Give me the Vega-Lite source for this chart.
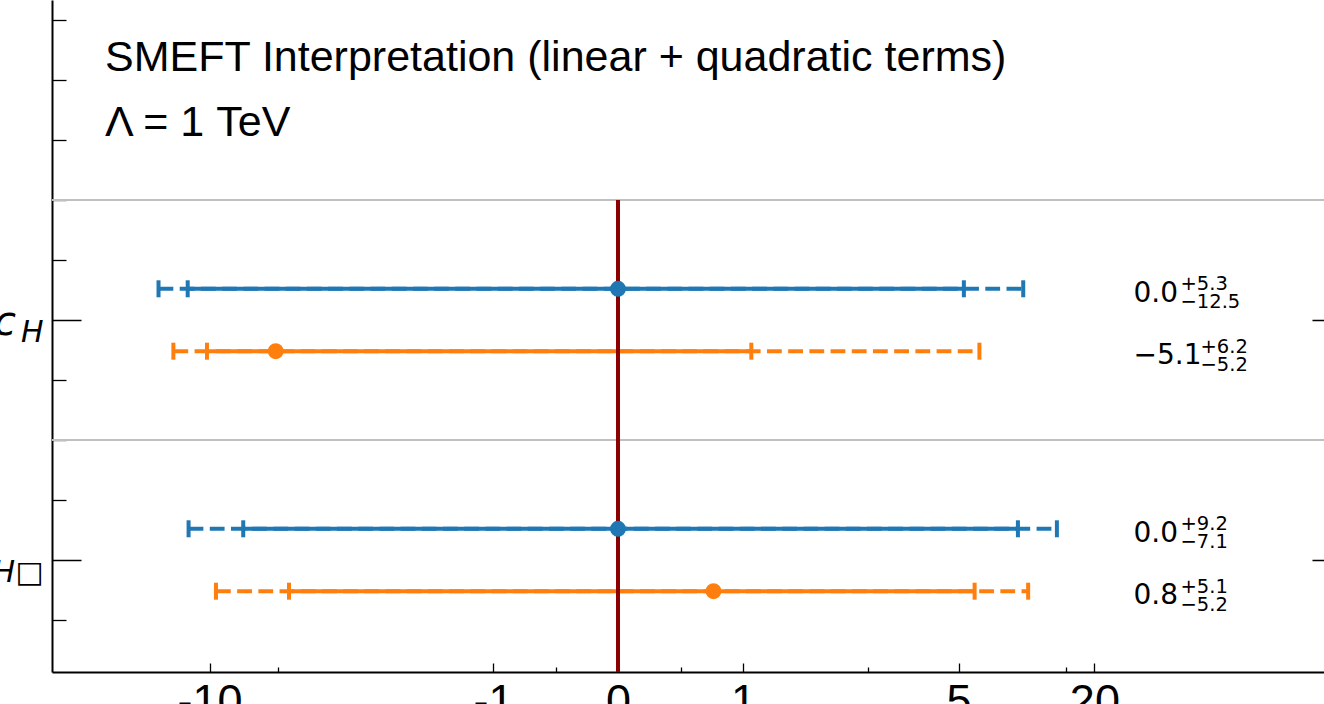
{
  "$schema": "https://vega.github.io/schema/vega-lite/v6.json",
  "width": 1272,
  "height": 672,
  "autosize": {"type": "none"},
  "padding": {"left": 52, "top": 0, "right": 0, "bottom": 32},
  "background": "white",
  "config": {
    "view": {"stroke": null},
    "font": "Liberation Sans"
  },
  "title": {
    "text": "SMEFT Interpretation (linear + quadratic terms)",
    "subtitle": "Λ = 1 TeV",
    "anchor": "start",
    "frame": "group",
    "orient": "top",
    "offset": -145,
    "dx": 53,
    "font": "Liberation Sans",
    "fontSize": 43,
    "fontWeight": "normal",
    "color": "black",
    "subtitleFont": "Liberation Sans",
    "subtitleFontSize": 43,
    "subtitleColor": "black",
    "subtitlePadding": 22
  },
  "datasets": {
    "fits": [
      {"coef": "c_H", "series": "Expected", "central": 0.0, "lo1": -12.5, "hi1": 5.3, "lo2": -17.0, "hi2": 9.7},
      {"coef": "c_H", "series": "Observed", "central": -5.1, "lo1": -10.3, "hi1": 1.1, "lo2": -14.5, "hi2": 6.2},
      {"coef": "c_H□", "series": "Expected", "central": 0.0, "lo1": -7.1, "hi1": 9.2, "lo2": -12.4, "hi2": 13.7},
      {"coef": "c_H□", "series": "Observed", "central": 0.8, "lo1": -4.4, "hi1": 5.9, "lo2": -9.4, "hi2": 10.2}
    ],
    "coefs": [
      {"coef": "c_H"},
      {"coef": "c_H□"}
    ]
  },
  "layer": [
    {
      "data": {"name": "coefs"},
      "transform": [
        {"calculate": "indexof(['c_H□', 'c_H'], datum.coef)", "as": "row"},
        {"calculate": "datum.row + 0.5", "as": "edge"}
      ],
      "mark": {"type": "rule", "color": "#c0c0c0", "strokeWidth": 2},
      "encoding": {
        "y": {
          "field": "edge", "type": "quantitative",
          "scale": {"domain": [-0.4667, 2.3333], "nice": false, "zero": false},
          "axis": {
            "values": [-0.25, 0, 0.25, 0.5, 0.75, 1, 1.25, 1.5, 1.75, 2, 2.25],
            "title": null,
            "ticks": false,
            "grid": true,
            "gridColor": "black",
            "gridWidth": 1.3,
            "gridDash": {"condition": {"test": "datum.value == 0 || datum.value == 1", "value": [29, 1231, 12, 100]}, "value": [14, 3000]},
            "domainColor": "black",
            "domainWidth": 2,
            "labelExpr": "datum.value == 1 ? 'H' : datum.value == 0 ? 'H□' : ''",
            "labelFont": "DejaVu Sans",
            "labelFontSize": 30,
            "labelFontStyle": "italic",
            "labelColor": "black",
            "labelPadding": 9,
            "labelBaseline": "alphabetic",
            "labelOffset": 22,
            "labelOverlap": false
          }
        }
      }
    },
    {
      "data": {"name": "coefs"},
      "transform": [
        {"calculate": "indexof(['c_H□', 'c_H'], datum.coef)", "as": "row"}
      ],
      "mark": {"type": "text", "align": "right", "baseline": "alphabetic", "dy": 15, "fontSize": 40, "fontStyle": "italic", "font": "DejaVu Sans", "color": "black"},
      "encoding": {
        "x": {"datum": -50, "scale": {"domain": [-50, -20, -15, -12.5, -10, -8.5, -7, -6, -5, -4.4, -2.5, -1, -0.5, 0, 0.5, 0.8, 1, 2.5, 4.4, 5, 6, 7, 8.5, 10, 12.5, 15, 20, 208], "range": [0, 89.6, 117.8, 135.7, 157.6, 173.5, 192.5, 207.6, 225.5, 237, 316, 441, 503.5, 566, 628.5, 661.5, 691, 816, 895, 906.5, 924.4, 939.5, 958.5, 974.4, 996.3, 1014.2, 1042.4, 1272], "nice": false, "zero": false}},
        "y": {"field": "row", "type": "quantitative", "scale": {"domain": [-0.4667, 2.3333], "nice": false, "zero": false}},
        "text": {"value": "c"},
        "xOffset": {"field": "row", "type": "quantitative", "scale": {"domain": [0, 1], "range": [-56, -36]}}
      }
    },
    {
      "data": {"name": "fits"},
      "transform": [
        {"calculate": "indexof(['c_H□', 'c_H'], datum.coef)", "as": "row"},
        {"calculate": "datum.row + (datum.series == 'Expected' ? 0.13 : -0.13)", "as": "ypos"},
        {"calculate": "format(datum.central, '.1f')", "as": "main"},
        {"calculate": "'+' + format(datum.hi1 - datum.central, '.1f')", "as": "up"},
        {"calculate": "'\u2212' + format(datum.central - datum.lo1, '.1f')", "as": "down"}
      ],
      "encoding": {
        "y": {"field": "ypos", "type": "quantitative", "scale": {"domain": [-0.4667, 2.3333], "nice": false, "zero": false}},
        "color": {"field": "series", "type": "nominal", "scale": {"domain": ["Expected", "Observed"], "range": ["#1f77b4", "#ff7f0e"]}, "legend": null}
      },
      "layer": [
        {
          "mark": {"type": "rule", "strokeWidth": 4, "strokeDash": [14.8, 6.4]},
          "encoding": {
            "x": {
              "field": "lo2", "type": "quantitative",
              "scale": {"domain": [-50, -20, -15, -12.5, -10, -8.5, -7, -6, -5, -4.4, -2.5, -1, -0.5, 0, 0.5, 0.8, 1, 2.5, 4.4, 5, 6, 7, 8.5, 10, 12.5, 15, 20, 208], "range": [0, 89.6, 117.8, 135.7, 157.6, 173.5, 192.5, 207.6, 225.5, 237, 316, 441, 503.5, 566, 628.5, 661.5, 691, 816, 895, 906.5, 924.4, 939.5, 958.5, 974.4, 996.3, 1014.2, 1042.4, 1272], "nice": false, "zero": false},
              "axis": {
                "values": [-10, -5, -1, -0.5, 0, 0.5, 1, 2.5, 5, 15, 20],
                "title": null,
                "ticks": false,
                "grid": true,
                "gridColor": "black",
                "gridWidth": 1.3,
                "gridDash": {"condition": {"test": "indexof([-10, -1, 0, 1, 5, 20], datum.value) >= 0", "value": [0, 663, 9, 100]}, "value": [0, 667, 5, 100]},
                "domainColor": "black",
                "domainWidth": 2,
                "labelExpr": "indexof([-10, -1, 0, 1, 5, 20], datum.value) >= 0 ? (datum.value < 0 ? '-' + abs(datum.value) : '' + datum.value) : ''",
                "labelFont": "Liberation Sans",
                "labelFontSize": 45,
                "labelColor": "black",
                "labelPadding": 7,
                "labelFlush": false,
                "labelOverlap": false
              }
            },
            "x2": {"field": "hi2"}
          }
        },
        {
          "mark": {"type": "rule", "strokeWidth": 4},
          "encoding": {
            "x": {"field": "lo1", "type": "quantitative"},
            "x2": {"field": "hi1"}
          }
        },
        {
          "transform": [{"fold": ["lo1", "hi1", "lo2", "hi2"], "as": ["bound", "pos"]}],
          "mark": {"type": "tick", "orient": "vertical", "size": 17, "thickness": 4, "opacity": 1},
          "encoding": {
            "x": {"field": "pos", "type": "quantitative"}
          }
        },
        {
          "mark": {"type": "text", "align": "left", "baseline": "alphabetic", "dy": 13, "fontSize": 28, "font": "DejaVu Sans"},
          "encoding": {
            "x": {"datum": 52},
            "text": {"field": "main"},
            "color": {"value": "black"}
          }
        },
        {
          "transform": [{"filter": "datum.central >= 0"}],
          "layer": [
            {
              "mark": {"type": "text", "align": "left", "baseline": "alphabetic", "dx": 47, "dy": 1.5, "fontSize": 19.5, "font": "DejaVu Sans"},
              "encoding": {"x": {"datum": 52}, "text": {"field": "up"}, "color": {"value": "black"}}
            },
            {
              "mark": {"type": "text", "align": "left", "baseline": "alphabetic", "dx": 47, "dy": 19.5, "fontSize": 19.5, "font": "DejaVu Sans"},
              "encoding": {"x": {"datum": 52}, "text": {"field": "down"}, "color": {"value": "black"}}
            }
          ]
        },
        {
          "transform": [{"filter": "datum.central < 0"}],
          "layer": [
            {
              "mark": {"type": "text", "align": "left", "baseline": "alphabetic", "dx": 67, "dy": 1.5, "fontSize": 19.5, "font": "DejaVu Sans"},
              "encoding": {"x": {"datum": 52}, "text": {"field": "up"}, "color": {"value": "black"}}
            },
            {
              "mark": {"type": "text", "align": "left", "baseline": "alphabetic", "dx": 67, "dy": 19.5, "fontSize": 19.5, "font": "DejaVu Sans"},
              "encoding": {"x": {"datum": 52}, "text": {"field": "down"}, "color": {"value": "black"}}
            }
          ]
        }
      ]
    },
    {
      "data": {"values": [{}]},
      "mark": {"type": "rule", "color": "#8b0000", "strokeWidth": 4},
      "encoding": {
        "x": {"datum": 0},
        "y": {"datum": 1.5},
        "y2": {"datum": -0.4667}
      }
    },
    {
      "data": {"name": "fits"},
      "transform": [
        {"calculate": "indexof(['c_H□', 'c_H'], datum.coef)", "as": "row"},
        {"calculate": "datum.row + (datum.series == 'Expected' ? 0.13 : -0.13)", "as": "ypos"}
      ],
      "mark": {"type": "point", "filled": true, "size": 254, "opacity": 1},
      "encoding": {
        "x": {"field": "central", "type": "quantitative"},
        "y": {"field": "ypos", "type": "quantitative"},
        "color": {"field": "series", "type": "nominal", "scale": {"domain": ["Expected", "Observed"], "range": ["#1f77b4", "#ff7f0e"]}, "legend": null}
      }
    }
  ]
}
